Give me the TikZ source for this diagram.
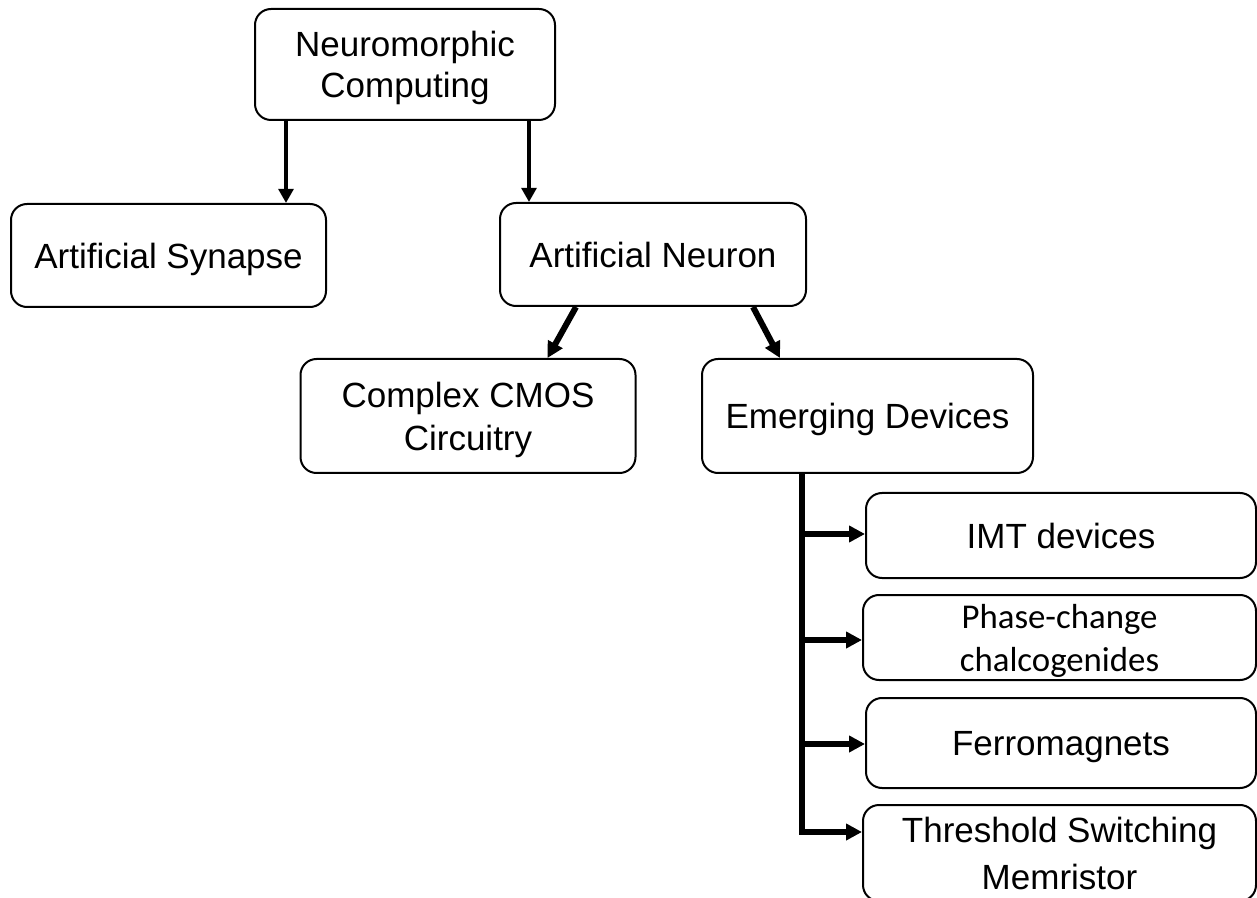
\documentclass[tikz,border=0pt]{standalone}
\usepackage{fontspec}
\setmainfont{Liberation Sans}
\newfontfamily\calfont{Carlito}
\usetikzlibrary{arrows.meta,calc}
\newcommand\twolines[3]{\vbox{\baselineskip=#1\relax\lineskiplimit=-10pt\halign{\hfil##\hfil\cr #2\cr #3\cr}}}
\begin{document}
\begin{tikzpicture}[x=0.75pt,y=-0.75pt,
  box/.style={draw=black,line width=1.5pt,rounded corners=12pt,fill=white,
    inner sep=0pt,text depth=0pt,font=\fontsize{26.25}{31.5}\selectfont},
  toparr/.style={line width=3.4pt,-{Triangle[width=11pt,length=10.5pt]}},
  arr/.style={line width=4.5pt,-{Triangle[width=12pt,length=12pt]}},
  trunkline/.style={line width=4.5pt,line join=miter,-{Triangle[width=12pt,length=12pt]}}]
\fill[white] (0,0) rectangle (1257,898);
\useasboundingbox (0,0) rectangle (1257,898);

\node[box,minimum width=225pt,minimum height=83.25pt] (top) at (405,64.5)
  {\twolines{30.75pt}{Neuromorphic}{Computing}};
\node[box,minimum width=236.25pt,minimum height=77.25pt] (syn) at (168.5,255.5)
  {Artificial Synapse};
\node[box,minimum width=229.5pt,minimum height=77.25pt] (neu) at (653,254.5)
  {Artificial Neuron};
\node[box,minimum width=251.25pt,minimum height=85.5pt] (cmos) at (468,416)
  {\twolines{32.25pt}{Complex CMOS}{Circuitry}};
\node[box,minimum width=248.25pt,minimum height=85.5pt] (emg) at (867.5,416)
  {Emerging Devices};
\node[box,minimum width=292.5pt,minimum height=63.75pt] (imt) at (1061,535.5)
  {IMT devices};
\node[box,minimum width=294.75pt,minimum height=63.75pt,font=\calfont\fontsize{26.1}{31.5}\selectfont] (pcm) at (1059.5,637.5)
  {\twolines{32.25pt}{Phase-change}{chalcogenides}};
\node[box,minimum width=292.5pt,minimum height=67.5pt] (fer) at (1061,743)
  {Ferromagnets};
\node[box,minimum width=294.75pt,minimum height=72pt] (thr) at (1059.5,853)
  {\twolines{35.25pt}{Threshold Switching}{Memristor}};

\coordinate (a1) at ($(top.south west)+(32,0)$);
\coordinate (a2) at ($(top.south west)+(275,0)$);
\draw[toparr] (a1) -- (a1 |- syn.north);
\draw[toparr] (a2) -- (a2 |- neu.north);

\coordinate (n1) at ($(neu.south west)+(77,0)$);
\coordinate (c1) at ($(cmos.north west)+(248,0)$);
\coordinate (n2) at ($(neu.south west)+(254,0)$);
\coordinate (e1) at ($(emg.north west)+(79,0)$);
\draw[arr] (n1) -- (c1);
\draw[arr] (n2) -- (e1);

\coordinate (trunk) at ($(emg.south west)+(101,0)$);
\coordinate (b1) at ($(trunk)+(0,60)$);
\coordinate (b2) at ($(trunk)+(0,166)$);
\coordinate (b3) at ($(trunk)+(0,270)$);
\coordinate (b4) at ($(trunk)+(0,358)$);
\draw[trunkline] (trunk) -- (b4) -- (b4 -| thr.west);
\draw[arr] (b1) -- (b1 -| imt.west);
\draw[arr] (b2) -- (b2 -| pcm.west);
\draw[arr] (b3) -- (b3 -| fer.west);
\end{tikzpicture}
\end{document}
